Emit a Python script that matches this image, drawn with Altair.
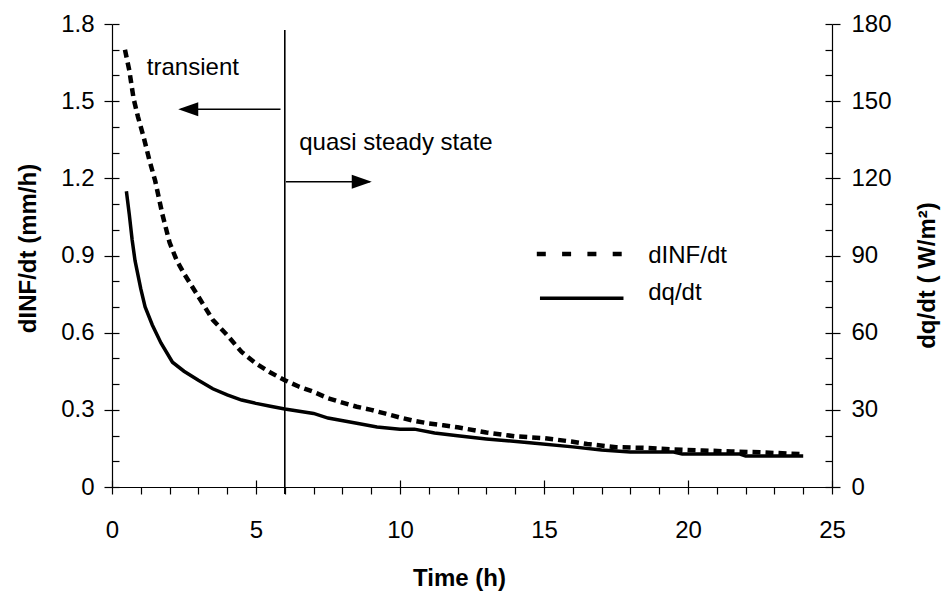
import altair as alt
import pandas as pd

# ---- data ----
t_inf = [0.45, 0.6, 0.75, 0.9, 1.1, 1.3, 1.5, 1.75, 2.0, 2.25, 2.5, 3.0, 3.5, 4.0, 4.5,
         5.0, 5.5, 6.0, 6.5, 7.0, 7.5, 8.0, 8.5, 9.0, 9.5, 10.0, 10.5, 11.0, 11.5, 12.0,
         13.0, 14.0, 15.0, 16.0, 16.5, 17.5, 18.5, 19.5, 20.5, 21.5, 22.5, 23.5, 24.0]
v_inf = [1.70, 1.62, 1.51, 1.44, 1.36, 1.27, 1.19, 1.06, 0.95, 0.88, 0.83, 0.74, 0.65, 0.59, 0.525,
         0.48, 0.445, 0.415, 0.39, 0.37, 0.345, 0.328, 0.312, 0.30, 0.285, 0.27, 0.257, 0.247, 0.24, 0.232,
         0.212, 0.197, 0.19, 0.176, 0.167, 0.155, 0.152, 0.146, 0.142, 0.138, 0.135, 0.13, 0.128]

t_dq = [0.5, 0.6, 0.7, 0.8, 1.0, 1.15, 1.4, 1.7, 2.1, 2.5, 3.0, 3.5, 4.0, 4.5, 5.0, 5.5, 6.0,
        7.0, 7.5, 8.5, 9.2, 10.0, 10.5, 11.2, 12.0, 13.0, 14.5, 16.0, 17.0, 18.0, 19.5, 19.8,
        21.8, 22.0, 24.0]
v_dq = [115, 106, 96, 88, 77, 70, 63, 56, 48.5, 45, 41.5, 38.2, 35.8, 33.8, 32.5, 31.4, 30.3,
        28.6, 26.8, 24.8, 23.3, 22.5, 22.5, 21.0, 19.9, 18.7, 17.2, 15.6, 14.4, 13.6, 13.6, 12.8,
        12.8, 12.1, 12.1]

x_major = [0, 5, 10, 15, 20, 25]
x_minor = list(range(0, 26))
yl_major = [0, 0.3, 0.6, 0.9, 1.2, 1.5, 1.8]
yl_minor = [0, 0.1, 0.2, 0.3, 0.4, 0.5, 0.6, 0.7, 0.8, 0.9, 1.0, 1.1, 1.2, 1.3, 1.4, 1.5, 1.6, 1.7, 1.8]
yr_major = [0, 30, 60, 90, 120, 150, 180]
yr_minor = list(range(0, 181, 10))

# annotations (data coordinates, left-axis units)
ann_text = ["transient", "quasi steady state", "dINF/dt", "dq/dt"]
ann_x = [1.21, 6.50, 18.62, 18.62]
ann_y = [1.602, 1.310, 0.870, 0.727]

arrow_x1 = [5.85, 6.04]
arrow_x2 = [2.40, 8.95]
arrow_y = [1.4685, 1.187]
head_left = (2.30, 1.4685)
head_right = (9.02, 1.187)

split_t = 6
split_top = 1.777
split_bottom = -0.027

leg_dash_x = [14.75, 17.70]
leg_dash_y = 0.906
leg_solid_x = [14.86, 17.76]
leg_solid_q = 73.4  # right-axis units

W, H = 720, 463
FONT = "Liberation Sans"

xs = alt.Scale(domain=[0, 25], nice=False, zero=False)
yl = alt.Scale(domain=[0, 1.8], nice=False, zero=False)
yr = alt.Scale(domain=[0, 180], nice=False, zero=False)

common = dict(domainColor="black", tickColor="black", labelColor="black", titleColor="black",
              labelFont=FONT, labelFontSize=24, titleFont=FONT, titleFontSize=24,
              titleFontWeight="bold", grid=False, domainWidth=1.2, tickWidth=1.2)

inner = dict(domain=False, labels=False, title=None, grid=False, tickColor="black", tickWidth=1.2)

inf_df = pd.DataFrame({"t": t_inf, "v": v_inf})
dq_df = pd.DataFrame({"t": t_dq, "q": v_dq})

inf_line = alt.Chart(inf_df).mark_line(color="black", strokeWidth=4.5, strokeDash=[8, 5], strokeCap="butt").encode(
    x=alt.X("t:Q", scale=xs, axis=alt.Axis(
        orient="bottom", values=x_minor, tickSize=7, labelPadding=43, labelBaseline="alphabetic",
        labelFlush=False, labelOverlap=False,
        labelExpr="datum.value % 5 === 0 ? format(datum.value, 'd') : ''",
        title="Time (h)", titleX=347, titleY=98, titleBaseline="alphabetic", titleAlign="center",
        **common)),
    y=alt.Y("v:Q", scale=yl, axis=alt.Axis(
        orient="left", values=yl_major, tickSize=8, labelPadding=10,
        labelExpr="datum.value === 0 ? '0' : format(datum.value, '.1f')",
        title="dINF/dt (mm/h)", titleAngle=270, titleX=-77, titleY=224,
        titleBaseline="alphabetic", titleAlign="center", **common)),
)

dq_line = alt.Chart(dq_df).mark_line(color="black", strokeWidth=3.5).encode(
    x=alt.X("t:Q", scale=xs, axis=alt.Axis(orient="top", offset=-H, values=x_major, tickSize=7, **inner)),
    y=alt.Y("q:Q", scale=yr, axis=alt.Axis(
        orient="right", values=yr_major, tickSize=8, labelPadding=11,
        labelExpr="format(datum.value, 'd')",
        title="dq/dt ( W/m²)", titleAngle=270, titleX=102, titleY=251,
        titleBaseline="alphabetic", titleAlign="center", **common)),
)

split_df = pd.DataFrame({"t": [split_t], "y1": [split_top], "y2": [split_bottom]})
split_rule = alt.Chart(split_df).mark_rule(color="black", strokeWidth=1.6).encode(
    x=alt.X("t:Q", scale=xs, axis=None),
    y=alt.Y("y1:Q", scale=yl, axis=alt.Axis(orient="right", offset=-W, values=yl_minor, tickSize=7, **inner)),
    y2="y2:Q",
)

leg_solid_df = pd.DataFrame({"t": leg_solid_x, "q": [leg_solid_q, leg_solid_q]})
leg_solid = alt.Chart(leg_solid_df).mark_line(color="black", strokeWidth=3.5).encode(
    x=alt.X("t:Q", scale=xs, axis=None),
    y=alt.Y("q:Q", scale=yr, axis=alt.Axis(orient="left", offset=-W, values=yr_minor, tickSize=7, **inner)),
)

leg_dash_df = pd.DataFrame({"t": leg_dash_x, "v": [leg_dash_y, leg_dash_y]})
leg_dash = alt.Chart(leg_dash_df).mark_line(color="black", strokeWidth=4.5, strokeDash=[9, 16.3], strokeCap="butt").encode(
    x=alt.X("t:Q", scale=xs, axis=None),
    y=alt.Y("v:Q", scale=yl, axis=None),
)

arrow_df = pd.DataFrame({"x1": arrow_x1, "x2": arrow_x2, "y": arrow_y})
arrows = alt.Chart(arrow_df).mark_rule(color="black", strokeWidth=1.6).encode(
    x=alt.X("x1:Q", scale=xs, axis=None),
    x2="x2:Q",
    y=alt.Y("y:Q", scale=yl, axis=None),
)

hl_df = pd.DataFrame({"x": [head_left[0]], "y": [head_left[1]]})
hr_df = pd.DataFrame({"x": [head_right[0]], "y": [head_right[1]]})
head_l = alt.Chart(hl_df).mark_point(shape="M 0 0 L 4 -1.4 L 4 1.4 Z", size=100, filled=True,
                                      color="black", opacity=1, strokeWidth=0).encode(
    x=alt.X("x:Q", scale=xs, axis=None), y=alt.Y("y:Q", scale=yl, axis=None))
head_r = alt.Chart(hr_df).mark_point(shape="M 0 0 L -4 -1.4 L -4 1.4 Z", size=100, filled=True,
                                      color="black", opacity=1, strokeWidth=0).encode(
    x=alt.X("x:Q", scale=xs, axis=None), y=alt.Y("y:Q", scale=yl, axis=None))

ann_df = pd.DataFrame({"text": ann_text, "x": ann_x, "y": ann_y})
texts = alt.Chart(ann_df).mark_text(align="left", baseline="alphabetic", font=FONT, fontSize=24,
                                    color="black").encode(
    x=alt.X("x:Q", scale=xs, axis=None), y=alt.Y("y:Q", scale=yl, axis=None), text="text:N")

chart = alt.layer(inf_line, dq_line, split_rule, leg_solid, leg_dash, arrows, head_l, head_r, texts).resolve_scale(
    y="independent"
).resolve_axis(
    x="independent", y="independent"
).properties(
    width=W, height=H, autosize="none",
    padding={"left": 112, "top": 24, "right": 112, "bottom": 105},
    background="white",
).configure_view(stroke=None)

chart.save("out.html", embed_options={"renderer": "svg", "actions": False})
